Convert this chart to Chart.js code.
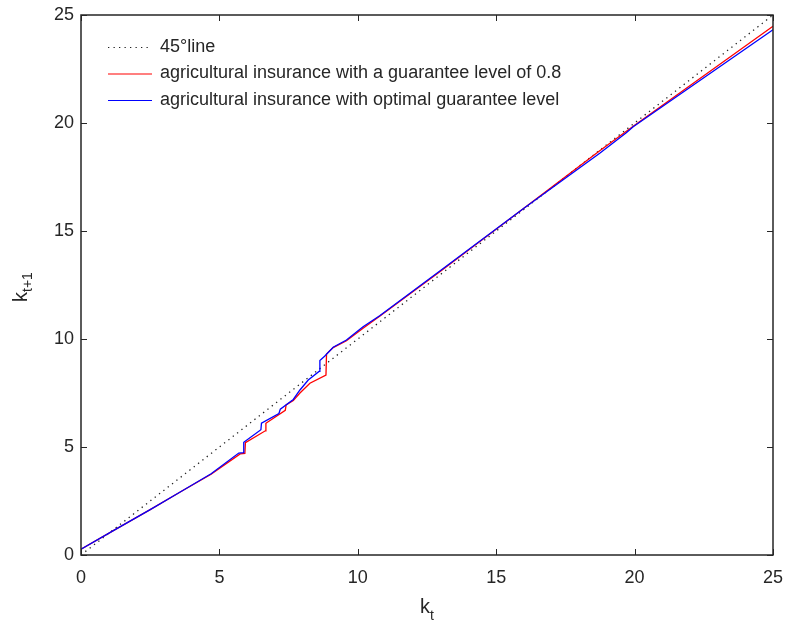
<!DOCTYPE html>
<html>
<head>
<meta charset="utf-8">
<script src="https://cdn.jsdelivr.net/npm/chart.js@4/dist/chart.umd.min.js"></script>
<style>
  html, body { margin: 0; padding: 0; background: #ffffff; }
  #wrap { width: 788px; height: 629px; }
</style>
</head>
<body>
<div id="wrap"><canvas id="kChart" width="788" height="629"></canvas></div>
<script>
// 45 degree reference line
const lineK = [0, 25];
const lineKNext = [0, 25];

// guarantee level 0.8 (red)
const redK = [0, 1.2, 2.5, 3.6, 4.7, 5.75, 5.92, 5.94, 6.66, 6.68, 7.38, 7.41, 7.67, 7.91, 8.27, 8.85, 8.87, 9.11, 9.59, 10.19, 10.79, 13, 16, 18.74, 20, 25];
const redKNext = [0.27, 1.15, 2.1, 2.93, 3.74, 4.68, 4.7, 5.2, 5.75, 6.1, 6.7, 6.95, 7.15, 7.5, 7.95, 8.33, 9.3, 9.6, 9.92, 10.5, 11.05, 13.15, 16.05, 18.72, 19.9, 24.48];

// optimal guarantee level (blue)
const blueK = [0, 1.2, 2.5, 3.6, 4.7, 5.7, 5.86, 5.88, 6.5, 6.52, 7.15, 7.2, 7.67, 7.91, 8.21, 8.6, 8.63, 8.8, 9.11, 9.59, 10.19, 10.79, 13, 16, 18.74, 19.7, 19.95, 25];
const blueKNext = [0.27, 1.15, 2.1, 2.93, 3.76, 4.72, 4.74, 5.22, 5.8, 6.1, 6.55, 6.75, 7.2, 7.64, 8.1, 8.5, 9.0, 9.2, 9.62, 9.95, 10.57, 11.08, 13.18, 16.05, 18.6, 19.55, 19.83, 24.32];

const xTicks = [0, 5, 10, 15, 20, 25];
const yTicks = [0, 5, 10, 15, 20, 25];

const legendLabels = [
    '45°line',
    'agricultural insurance with a guarantee level of 0.8',
    'agricultural insurance with optimal guarantee level'
];

const ink = '#262626';
const font = '"Liberation Sans", Arial, Helvetica, sans-serif';

function toPoints(xs, ys) {
    return xs.map((x, i) => ({ x: x, y: ys[i] }));
}

// box, inward ticks, tick labels, axis titles and legend (MATLAB look)
const matlabFrame = {
    id: 'matlabFrame',
    afterDatasetsDraw(chart) {
        const ctx = chart.ctx;
        const a = chart.chartArea;
        const xs = chart.scales.x;
        const ys = chart.scales.y;
        ctx.save();
        ctx.strokeStyle = ink;
        ctx.lineWidth = 1.5;
        ctx.strokeRect(a.left, a.top, a.right - a.left, a.bottom - a.top);

        ctx.lineWidth = 1;
        ctx.beginPath();
        xTicks.forEach(v => {
            const px = Math.round(xs.getPixelForValue(v)) + 0.5;
            ctx.moveTo(px, a.bottom); ctx.lineTo(px, a.bottom - 6);
            ctx.moveTo(px, a.top); ctx.lineTo(px, a.top + 6);
        });
        yTicks.forEach(v => {
            const py = Math.round(ys.getPixelForValue(v)) + 0.5;
            ctx.moveTo(a.left, py); ctx.lineTo(a.left + 6, py);
            ctx.moveTo(a.right, py); ctx.lineTo(a.right - 6, py);
        });
        ctx.stroke();

        // tick labels
        ctx.fillStyle = ink;
        ctx.font = '18px ' + font;
        ctx.textBaseline = 'middle';
        ctx.textAlign = 'center';
        xTicks.forEach(v => ctx.fillText(String(v), xs.getPixelForValue(v), a.bottom + 23));
        ctx.textAlign = 'right';
        yTicks.forEach(v => ctx.fillText(String(v), a.left - 7, ys.getPixelForValue(v)));

        // x title: k_t
        ctx.textBaseline = 'alphabetic';
        ctx.textAlign = 'left';
        ctx.font = '20px ' + font;
        const cx = (a.left + a.right) / 2;
        ctx.fillText('k', cx - 7, 613);
        ctx.font = '14px ' + font;
        ctx.fillText('t', cx + 3, 620);

        // y title: k_{t+1}
        ctx.save();
        ctx.translate(27, 302);
        ctx.rotate(-Math.PI / 2);
        ctx.font = '20px ' + font;
        ctx.fillText('k', 0, 0);
        ctx.font = '14px ' + font;
        ctx.fillText('t+1', 10, 5);
        ctx.restore();

        // legend
        const styles = [
            { color: '#222222', dash: [1.3, 4.2] },
            { color: '#ff0000', dash: [] },
            { color: '#0000ff', dash: [] }
        ];
        ctx.font = '18px ' + font;
        ctx.textBaseline = 'middle';
        legendLabels.forEach((label, i) => {
            const y = 47 + i * 26.5;
            ctx.strokeStyle = styles[i].color;
            ctx.setLineDash(styles[i].dash);
            ctx.lineWidth = 1.2;
            ctx.beginPath();
            ctx.moveTo(108, y + 0.5);
            ctx.lineTo(152, y + 0.5);
            ctx.stroke();
            ctx.setLineDash([]);
            ctx.fillStyle = ink;
            ctx.fillText(label, 160, y);
        });
        ctx.restore();
    }
};

const ctx = document.getElementById('kChart').getContext('2d');
const kChart = new Chart(ctx, {
    type: 'scatter',
    data: {
        datasets: [
            {
                label: legendLabels[2],
                data: toPoints(blueK, blueKNext),
                showLine: true,
                borderColor: '#0000ff',
                borderWidth: 1.3,
                pointRadius: 0,
                order: 0
            },
            {
                label: legendLabels[1],
                data: toPoints(redK, redKNext),
                showLine: true,
                borderColor: '#ff0000',
                borderWidth: 1.3,
                pointRadius: 0,
                order: 1
            },
            {
                label: legendLabels[0],
                data: toPoints(lineK, lineKNext),
                showLine: true,
                borderColor: '#222222',
                borderWidth: 1.3,
                borderDash: [1.3, 4.2],
                pointRadius: 0,
                order: 2
            }
        ]
    },
    options: {
        responsive: false,
        animation: false,
        layout: { padding: { left: 0, right: 15, top: 15, bottom: 0 } },
        plugins: {
            legend: { display: false },
            tooltip: { enabled: false }
        },
        scales: {
            x: {
                type: 'linear',
                min: 0,
                max: 25,
                afterBuildTicks: scale => { scale.ticks = xTicks.map(v => ({ value: v })); },
                afterFit: scale => { scale.height = 74; },
                grid: { display: false, drawTicks: false },
                border: { display: false },
                ticks: { display: false }
            },
            y: {
                type: 'linear',
                min: 0,
                max: 25,
                afterBuildTicks: scale => { scale.ticks = yTicks.map(v => ({ value: v })); },
                afterFit: scale => { scale.width = 81; },
                grid: { display: false, drawTicks: false },
                border: { display: false },
                ticks: { display: false }
            }
        }
    },
    plugins: [matlabFrame]
});
</script>
</body>
</html>
